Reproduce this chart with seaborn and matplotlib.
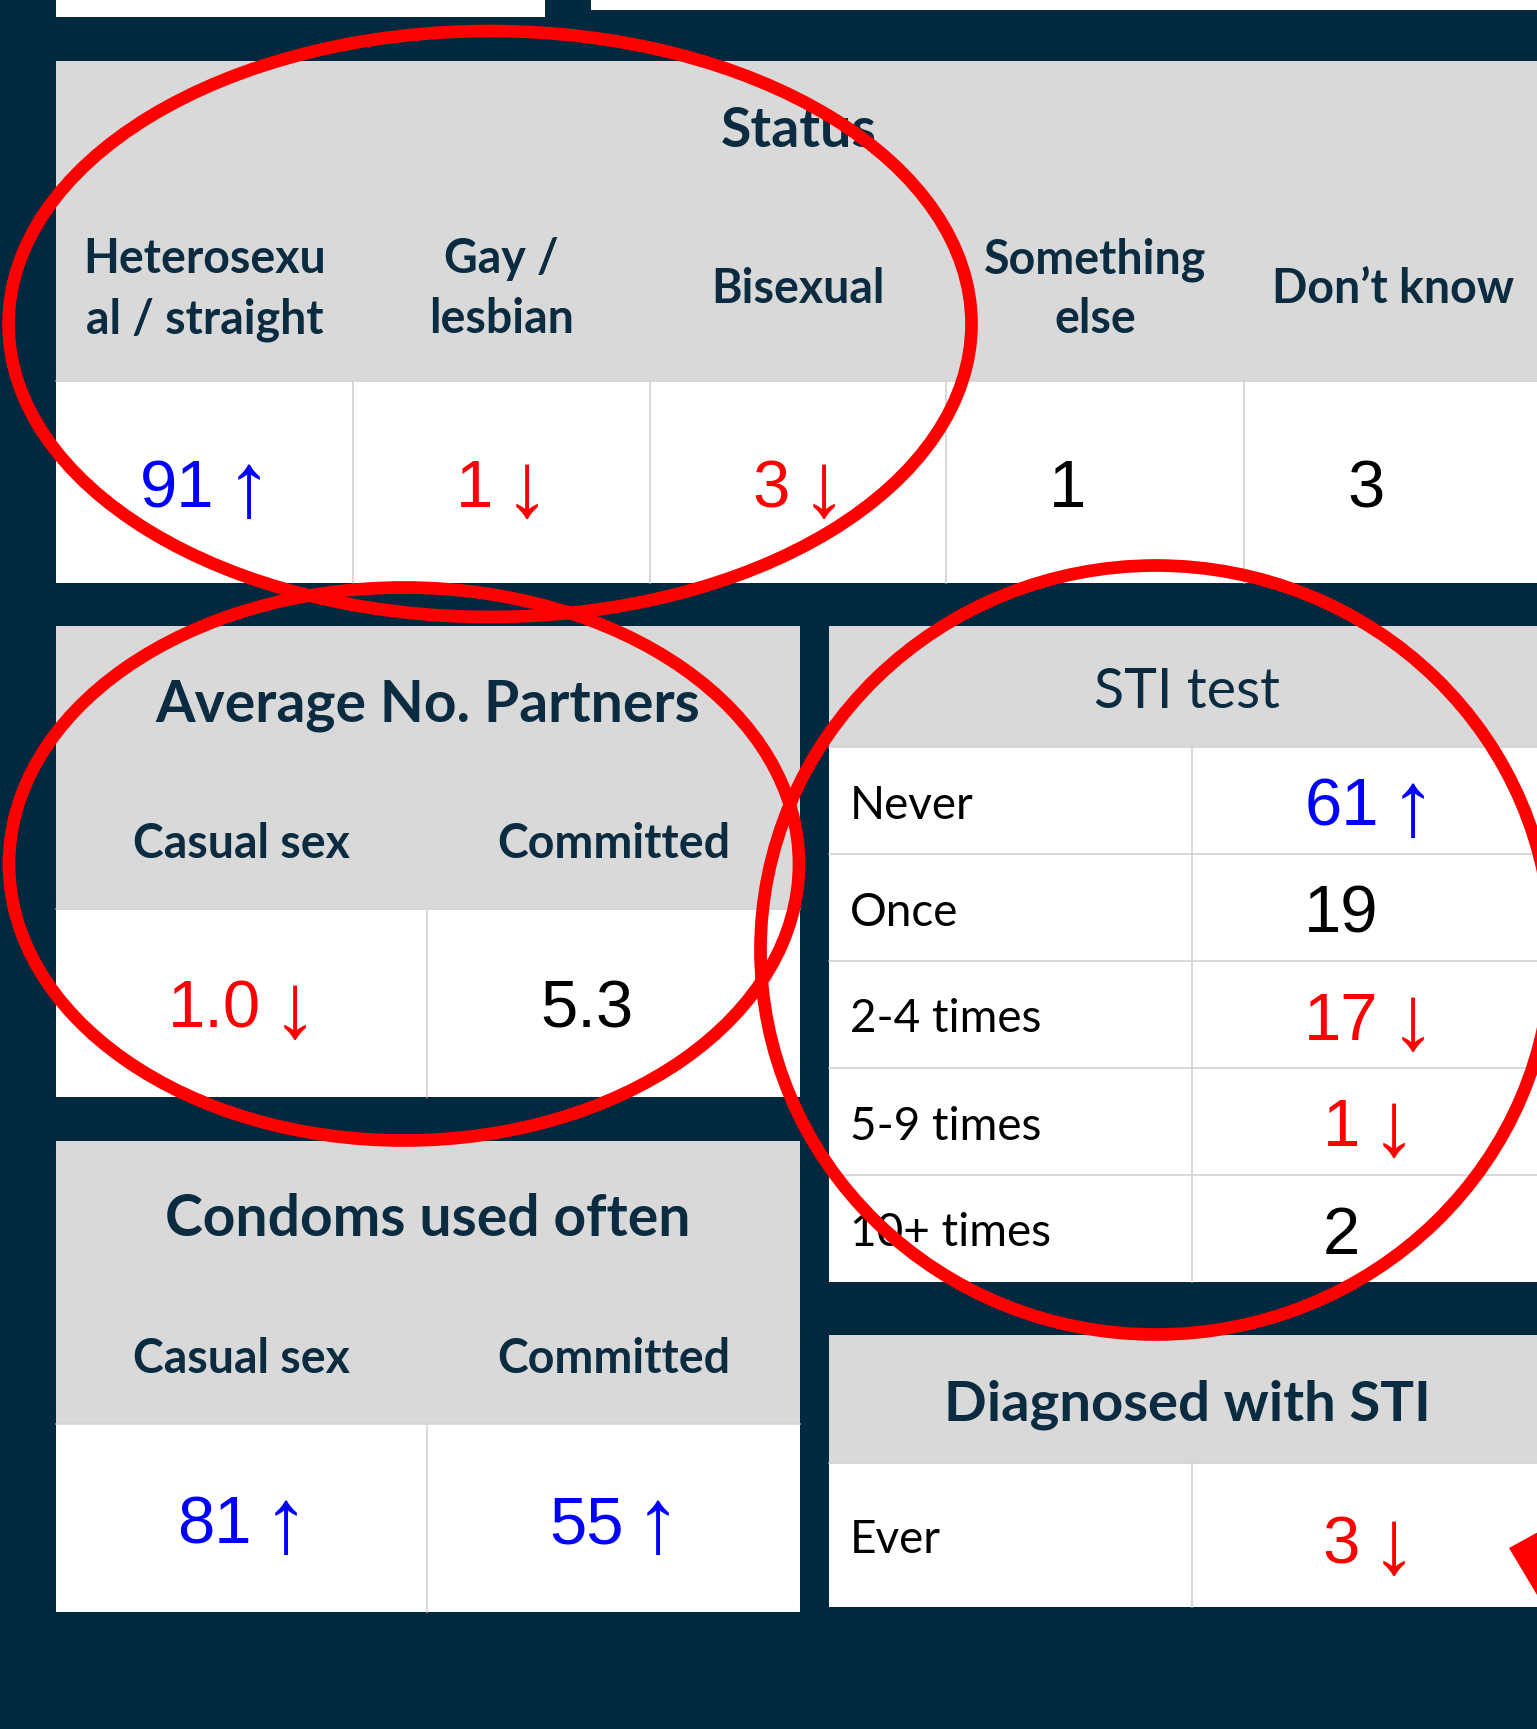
import matplotlib
matplotlib.use("Agg")
import matplotlib.pyplot as plt
import seaborn as sns
from matplotlib.patches import Rectangle, Ellipse, Polygon

# table contents
status_labels = ["Heterosexu\nal / straight", "Gay /\nlesbian", "Bisexual", "Something\nelse", "Don\u2019t know"]
status_values = ["91", "1", "3", "1", "3"]
status_trend = ["up", "down", "down", "", ""]

partner_labels = ["Casual sex", "Committed"]
partner_values = ["1.0", "5.3"]
partner_trend = ["down", ""]

condom_labels = ["Casual sex", "Committed"]
condom_values = ["81", "55"]
condom_trend = ["up", "up"]

sti_test_labels = ["Never", "Once", "2-4 times", "5-9 times", "10+ times"]
sti_test_values = ["61", "19", "17", "1", "2"]
sti_test_trend = ["up", "", "down", "down", ""]

diag_labels = ["Ever"]
diag_values = ["3"]
diag_trend = ["down"]

sns.set_theme(style="white")
plt.rcParams["font.family"] = ["Lato", "DejaVu Sans"]

NAVY = "#00293f"
TEXT = "#0b2b40"
GREY = "#d9d9d9"
LINE = "#d2d2d2"
TREND_COLOR = {"up": "#0000ff", "down": "#ff0000", "": "#000000"}
ARROWS = {"up": "\u2191", "down": "\u2193", "": ""}
NUM_FONT = ["Liberation Sans", "DejaVu Sans"]

W, H = 1537, 1729
fig = plt.figure(figsize=(W / 100, H / 100), dpi=100, facecolor=NAVY)
ax = fig.add_axes([0, 0, 1, 1])
ax.set_xlim(0, W)
ax.set_ylim(H, 0)
ax.axis("off")


def pt(px):
    return px * 72 / 100


def box(x0, y0, x1, y1, color):
    ax.add_patch(Rectangle((x0, y0), x1 - x0, y1 - y0, facecolor=color, edgecolor="none", zorder=1))


def grid_lines(xs, y0, y1, ys=(), x0=None, x1=None):
    for x in xs:
        ax.plot([x, x], [y0, y1], color=LINE, lw=1.2, zorder=2)
    for y in ys:
        ax.plot([x0, x1], [y, y], color=LINE, lw=1.2, zorder=2)


def value(cx, baseline, v, trend):
    col = TREND_COLOR[trend]
    num = ax.text(cx - 27, baseline, v, ha="center", va="baseline", fontsize=pt(67),
                  color=col, family=NUM_FONT, zorder=3)
    if trend:
        # arrow sits just right of the number, reaching below the baseline
        ax.annotate(ARROWS[trend], xy=(1, baseline), xycoords=(num, "data"),
                    xytext=(pt(34), -pt(9)), textcoords="offset points",
                    ha="center", va="baseline", fontsize=pt(92),
                    color=col, family=NUM_FONT, zorder=3)


def header(cx, text, base_mid, size=33.5, spacing=60):
    lines = text.split("\n")
    first = base_mid - spacing * (len(lines) - 1) / 2
    for i, ln in enumerate(lines):
        ax.text(cx, first + i * spacing, ln, ha="center", va="baseline",
                fontsize=size, fontweight="bold", color=TEXT, zorder=3)


# white strips at the top edge
box(56, 0, 545, 17, "white")
box(591, 0, 1537, 10, "white")

# ---- Status table
sx = [56, 353, 650, 946, 1244, 1542]
box(56, 61, 1542, 381, GREY)
box(56, 381, 1542, 583, "white")
grid_lines(sx[1:-1], 381, 583, ys=[381], x0=56, x1=1542)
ax.text(799, 147, "Status", ha="center", va="baseline", fontsize=40,
        fontweight="bold", color=TEXT, zorder=3)
for i, lab in enumerate(status_labels):
    cx = (sx[i] + sx[i + 1]) / 2
    header(cx, lab, 303)
    value(cx, 507, status_values[i], status_trend[i])

# ---- Average No. Partners / Condoms used often
px = [56, 427, 800]
for top, title, labels, vals, trends in [
        (626, "Average No. Partners", partner_labels, partner_values, partner_trend),
        (1141, "Condoms used often", condom_labels, condom_values, condom_trend)]:
    hb = top + 283
    bot = top + 471
    box(56, top, 800, hb, GREY)
    box(56, hb, 800, bot, "white")
    grid_lines([427], hb, bot, ys=[hb], x0=56, x1=800)
    ax.text(428, top + 95, title, ha="center", va="baseline", fontsize=41,
            fontweight="bold", color=TEXT, zorder=3)
    for i in range(2):
        cx = (px[i] + px[i + 1]) / 2
        header(cx, labels[i], top + 232)
        value(cx, (hb + bot) / 2 + 25, vals[i], trends[i])

# ---- STI test
tx = [829, 1192, 1545]
rows = [747 + 107 * i for i in range(6)]
box(829, 626, 1545, 747, GREY)
box(829, 747, 1545, rows[-1], "white")
grid_lines([1192], 747, rows[-1], ys=rows[:-1], x0=829, x1=1545)
ax.text(1187, 708, "STI test", ha="center", va="baseline", fontsize=40,
        color=TEXT, zorder=3)
for i, lab in enumerate(sti_test_labels):
    cy = (rows[i] + rows[i + 1]) / 2
    ax.text(850, cy + 18, lab, ha="left", va="baseline", fontsize=33, color="black", zorder=3)
    value((tx[1] + tx[2]) / 2, cy + 25, sti_test_values[i], sti_test_trend[i])

# ---- Diagnosed with STI
box(829, 1335, 1545, 1463, GREY)
box(829, 1463, 1545, 1607, "white")
grid_lines([1192], 1463, 1607, ys=[1463], x0=829, x1=1545)
ax.text(1187, 1420, "Diagnosed with STI", ha="center", va="baseline", fontsize=40.5,
        fontweight="bold", color=TEXT, zorder=3)
for i, lab in enumerate(diag_labels):
    cy = (1463 + 1607) / 2
    ax.text(850, cy + 18, lab, ha="left", va="baseline", fontsize=33, color="black", zorder=3)
    value((tx[1] + tx[2]) / 2, cy + 29, diag_values[i], diag_trend[i])

# ---- red highlight rings
for (cx, cy, w, h) in [(490, 324, 963, 586), (404, 864, 790, 553), (1156, 950, 791, 769)]:
    ax.add_patch(Ellipse((cx, cy), w, h, fill=False, edgecolor="#ff0000", lw=pt(12.7), zorder=5))
ax.add_patch(Polygon([(1509, 1548), (1540, 1531), (1540, 1600)], closed=True,
                     facecolor="#ff0000", edgecolor="none", zorder=5))

fig.savefig("out.png", dpi=100, facecolor=fig.get_facecolor())
